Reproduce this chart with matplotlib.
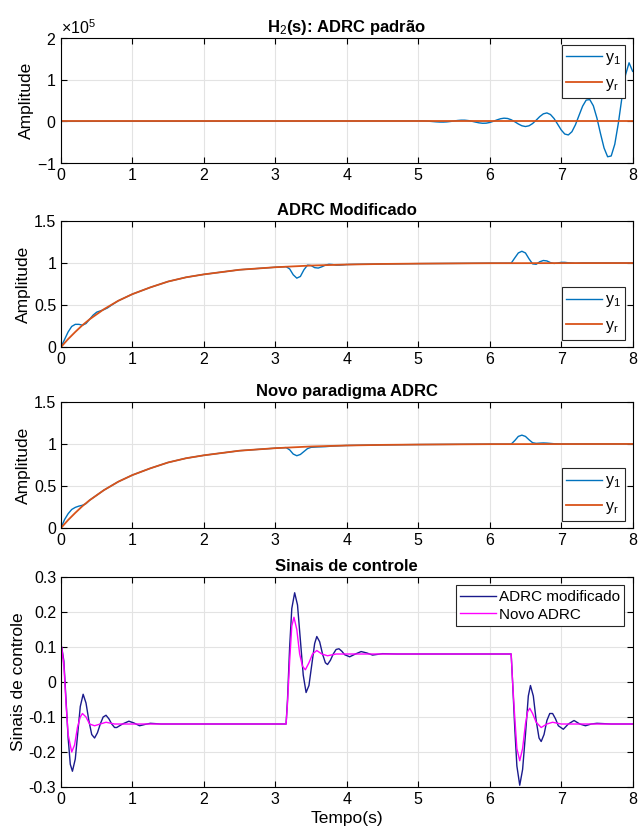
import numpy as np
import matplotlib
matplotlib.use('Agg')
import matplotlib.pyplot as plt

plt.rcParams['font.family'] = ['Liberation Sans', 'DejaVu Sans']
plt.rcParams['mathtext.fontset'] = 'custom'
plt.rcParams['mathtext.rm'] = 'Liberation Sans'
plt.rcParams['mathtext.it'] = 'Liberation Sans'
plt.rcParams['axes.unicode_minus'] = False
plt.rcParams['font.size'] = 11

# reference response y_r (same in all three output panels)
t_yr = [0, 0.1, 0.2, 0.3, 0.4, 0.5, 0.6, 0.7, 0.8, 0.9, 1.0, 1.25, 1.5, 1.75, 2.0,
        2.5, 3.0, 3.5, 4.0, 4.5, 5.0, 6.0, 7.0, 8.0]
yr = [0, 0.095, 0.18, 0.26, 0.33, 0.39, 0.45, 0.50, 0.55, 0.59, 0.63, 0.71, 0.78,
      0.83, 0.865, 0.92, 0.95, 0.97, 0.982, 0.989, 0.993, 0.998, 0.999, 1.0]

# H2(s) standard ADRC, y1 in units of 1e5
t_h2 = [0, 5.00, 5.05, 5.10, 5.15, 5.20, 5.25, 5.30, 5.35, 5.40, 5.45, 5.50, 5.55,
        5.60, 5.65, 5.70, 5.75, 5.80, 5.85, 5.90, 5.95, 6.00, 6.05, 6.10, 6.15,
        6.20, 6.25, 6.30, 6.35, 6.40, 6.45, 6.50, 6.55, 6.60, 6.65, 6.70, 6.75,
        6.80, 6.85, 6.90, 6.95, 7.00, 7.05, 7.10, 7.15, 7.20, 7.25, 7.30, 7.35,
        7.40, 7.45, 7.50, 7.55, 7.60, 7.65, 7.70, 7.75, 7.80, 7.85, 7.90, 7.95, 8.00]
y1_h2 = [0, 0.0099, 0.0108, 0.0084, 0.0030, -0.0044, -0.0117, -0.0167, -0.0173,
         -0.0127, -0.0032, 0.0090, 0.0206, 0.0278, 0.0276, 0.0188, 0.0024, -0.0176,
         -0.0359, -0.0461, -0.0438, -0.0273, 0.0008, 0.0336, 0.0619, 0.0760, 0.0687,
         0.0386, -0.0092, -0.0626, -0.1062, -0.1243, -0.1067, -0.0526, 0.0280,
         0.1143, 0.1803, 0.2020, 0.1641, 0.0682, -0.0669, -0.2055, -0.3046, -0.3263,
         -0.2494, -0.0802, 0.1440, 0.3646, 0.5103, 0.5227, 0.3733, 0.0797, -0.2922,
         -0.6395, -0.8500, -0.8312, -0.5499, -0.0438, 0.5676, 1.1114, 1.406, 1.20]

# ADRC modificado, y1
t_mod = [0, 0.05, 0.1, 0.15, 0.2, 0.25, 0.3, 0.35, 0.4, 0.45, 0.5, 0.55, 0.6, 0.65,
         0.7, 0.8, 1.0, 1.25, 1.5, 1.75, 2.0, 2.5, 3.0, 3.15, 3.2, 3.25, 3.3, 3.35,
         3.4, 3.45, 3.5, 3.55, 3.6, 3.65, 3.7, 3.75, 3.8, 3.85, 3.9, 3.95, 4.0, 4.1,
         4.5, 5.0, 6.0, 6.3, 6.35, 6.4, 6.45, 6.5, 6.55, 6.6, 6.65, 6.7, 6.75, 6.8,
         6.85, 6.9, 6.95, 7.0, 7.05, 7.1, 7.2, 7.3, 8.0]
y1_mod = [0, 0.09, 0.18, 0.245, 0.27, 0.27, 0.26, 0.28, 0.33, 0.38, 0.415, 0.43,
          0.445, 0.465, 0.495, 0.55, 0.63, 0.71, 0.78, 0.83, 0.865, 0.92, 0.95,
          0.957, 0.93, 0.86, 0.82, 0.84, 0.92, 0.975, 0.97, 0.945, 0.94, 0.955,
          0.975, 0.985, 0.982, 0.975, 0.975, 0.978, 0.982, 0.984, 0.989, 0.993,
          0.998, 0.998, 1.06, 1.12, 1.14, 1.12, 1.05, 0.99, 0.985, 1.015, 1.03,
          1.025, 1.005, 0.995, 1.0, 1.008, 1.008, 1.003, 0.998, 1.001, 1.0]

# Novo paradigma ADRC, y1
t_novo = [0, 0.05, 0.1, 0.15, 0.2, 0.25, 0.3, 0.35, 0.4, 0.5, 0.6, 0.8, 1.0, 1.25,
          1.5, 1.75, 2.0, 2.5, 3.0, 3.15, 3.2, 3.25, 3.3, 3.35, 3.4, 3.45, 3.5, 3.6,
          3.7, 3.8, 4.0, 4.5, 5.0, 6.0, 6.3, 6.35, 6.4, 6.45, 6.5, 6.55, 6.6, 6.65,
          6.7, 6.75, 6.8, 6.9, 7.0, 8.0]
y1_novo = [0, 0.1, 0.17, 0.22, 0.245, 0.26, 0.27, 0.29, 0.33, 0.39, 0.45, 0.55,
           0.63, 0.71, 0.78, 0.83, 0.865, 0.92, 0.95, 0.957, 0.93, 0.88, 0.86,
           0.875, 0.91, 0.945, 0.96, 0.965, 0.968, 0.975, 0.982, 0.989, 0.993,
           0.998, 0.998, 1.04, 1.09, 1.105, 1.09, 1.05, 1.015, 1.007, 1.01, 1.012,
           1.01, 1.003, 1.0, 1.0]

# control signals
t_u_mod = [0, 0.01, 0.04, 0.07, 0.10, 0.13, 0.16, 0.20, 0.235, 0.27, 0.31, 0.35,
           0.39, 0.43, 0.47, 0.51, 0.55, 0.59, 0.63, 0.67, 0.71, 0.75, 0.78, 0.86,
           0.95, 1.02, 1.1, 1.18, 1.25, 1.4, 3.15,
           3.17, 3.2, 3.23, 3.27, 3.31, 3.35, 3.39, 3.43, 3.47, 3.51, 3.55, 3.58,
           3.62, 3.66, 3.7, 3.73, 3.77, 3.81, 3.85, 3.89, 3.93, 3.97, 4.04, 4.12,
           4.2, 4.28, 4.36, 4.5, 4.7, 6.3,
           6.32, 6.35, 6.38, 6.42, 6.46, 6.5, 6.54, 6.57, 6.61, 6.65, 6.69, 6.72,
           6.76, 6.8, 6.84, 6.88, 6.92, 6.96, 7.03, 7.1, 7.18, 7.26, 7.34, 7.42,
           7.5, 7.7, 8.0]
u_mod = [0, 0.10, 0.06, -0.05, -0.16, -0.235, -0.255, -0.22, -0.145, -0.07,
         -0.035, -0.06, -0.11, -0.15, -0.16, -0.145, -0.12, -0.10, -0.095, -0.105,
         -0.12, -0.13, -0.13, -0.12, -0.112, -0.117, -0.125, -0.121, -0.118,
         -0.12, -0.12,
         -0.05, 0.1, 0.21, 0.255, 0.22, 0.12, 0.02, -0.03, -0.01, 0.05, 0.11, 0.13,
         0.115, 0.08, 0.055, 0.05, 0.062, 0.08, 0.093, 0.095, 0.088, 0.078, 0.072,
         0.08, 0.087, 0.083, 0.077, 0.081, 0.08, 0.08,
         0.0, -0.13, -0.24, -0.295, -0.25, -0.15, -0.04, -0.01, -0.04, -0.11,
         -0.16, -0.17, -0.15, -0.11, -0.09, -0.09, -0.105, -0.125, -0.135, -0.12,
         -0.11, -0.12, -0.125, -0.12, -0.118, -0.12, -0.12]

t_u_novo = [0, 0.01, 0.04, 0.07, 0.1, 0.15, 0.19, 0.23, 0.27, 0.3, 0.35, 0.4,
            0.47, 0.55, 0.63, 0.75, 3.15,
            3.17, 3.2, 3.23, 3.26, 3.3, 3.34, 3.38, 3.42, 3.47, 3.52, 3.58, 3.65,
            3.73, 3.85, 6.3,
            6.32, 6.35, 6.38, 6.42, 6.46, 6.5, 6.53, 6.56, 6.6, 6.65, 6.72, 6.8,
            6.88, 7.0, 8.0]
u_novo = [0, 0.1, 0.05, -0.06, -0.15, -0.2, -0.18, -0.13, -0.10, -0.09, -0.10,
          -0.12, -0.125, -0.12, -0.115, -0.12, -0.12,
          -0.06, 0.06, 0.16, 0.185, 0.15, 0.08, 0.045, 0.035, 0.055, 0.08, 0.09,
          0.08, 0.075, 0.08, 0.08,
          0.0, -0.1, -0.19, -0.225, -0.19, -0.12, -0.085, -0.075, -0.09, -0.115,
          -0.13, -0.12, -0.115, -0.12, -0.12]

c_y1 = '#0072BD'
c_yr = '#D95319'


def style(ax, title, ylabel):
    ax.set_xlim(0, 8)
    ax.set_xticks(range(9))
    ax.grid(True, color='#e3e3e3', linewidth=0.8)
    ax.set_axisbelow(True)
    ax.tick_params(direction='in', top=True, right=True, length=4, labelsize=11.5)
    ax.set_title(title, fontweight='bold', fontsize=12, pad=4)
    ax.set_ylabel(ylabel, fontsize=12.5, labelpad=2)
    for s in ax.spines.values():
        s.set_linewidth(0.8)


def legend(ax, loc):
    leg = ax.legend(loc=loc, fancybox=False, framealpha=1, edgecolor='#262626',
                    handlelength=2.2, handletextpad=0.2, fontsize=11.5,
                    borderaxespad=0.45, borderpad=0.3, labelspacing=0.55)
    leg.get_frame().set_linewidth(0.8)


fig = plt.figure(figsize=(6.38, 8.30), dpi=100)
L, W = 0.0956, 0.896
ax1 = fig.add_axes([L, 0.8036, W, 0.1506])
ax2 = fig.add_axes([L, 0.5819, W, 0.1518])
ax3 = fig.add_axes([L, 0.3639, W, 0.1518])
ax4 = fig.add_axes([L, 0.0518, W, 0.253])

ax1.plot(t_h2, np.array(y1_h2) * 1e5, color=c_y1, lw=1, label='y$_1$')
ax1.plot(t_yr, yr, color=c_yr, lw=1.3, label='y$_r$')
ax1.set_ylim(-1e5, 2e5)
ax1.set_yticks([-1e5, 0, 1e5, 2e5])
ax1.ticklabel_format(axis='y', style='sci', scilimits=(0, 0), useMathText=True)
ax1.yaxis.get_offset_text().set_fontsize(11.5)
style(ax1, 'H$_2$(s): ADRC padrão', 'Amplitude')
legend(ax1, 'upper right')

ax2.plot(t_mod, y1_mod, color=c_y1, lw=1, label='y$_1$')
ax2.plot(t_yr, yr, color=c_yr, lw=1.3, label='y$_r$')
ax2.set_ylim(0, 1.5)
ax2.set_yticks([0, 0.5, 1, 1.5])
ax2.set_yticklabels(['0', '0.5', '1', '1.5'])
style(ax2, 'ADRC Modificado', 'Amplitude')
legend(ax2, 'lower right')

ax3.plot(t_novo, y1_novo, color=c_y1, lw=1, label='y$_1$')
ax3.plot(t_yr, yr, color=c_yr, lw=1.3, label='y$_r$')
ax3.set_ylim(0, 1.5)
ax3.set_yticks([0, 0.5, 1, 1.5])
ax3.set_yticklabels(['0', '0.5', '1', '1.5'])
style(ax3, 'Novo paradigma ADRC', 'Amplitude')
legend(ax3, 'lower right')

ax4.plot(t_u_mod, u_mod, color='#1a1a8c', lw=1, label='ADRC modificado')
ax4.plot(t_u_novo, u_novo, color='#ff00ff', lw=1, label='Novo ADRC')
ax4.set_ylim(-0.3, 0.3)
ax4.set_yticks([-0.3, -0.2, -0.1, 0, 0.1, 0.2, 0.3])
ax4.set_yticklabels(['-0.3', '-0.2', '-0.1', '0', '0.1', '0.2', '0.3'])
style(ax4, 'Sinais de controle', 'Sinais de controle')
ax4.set_xlabel('Tempo(s)', fontsize=12.5, labelpad=3)
leg = ax4.legend(loc='upper right', fancybox=False, framealpha=1,
                 edgecolor='#262626', handlelength=2.3, fontsize=11,
                 borderaxespad=0.55, borderpad=0.3, labelspacing=0.25,
                 handletextpad=0.2)
leg.get_frame().set_linewidth(0.8)

fig.savefig('out.png', dpi=100)
